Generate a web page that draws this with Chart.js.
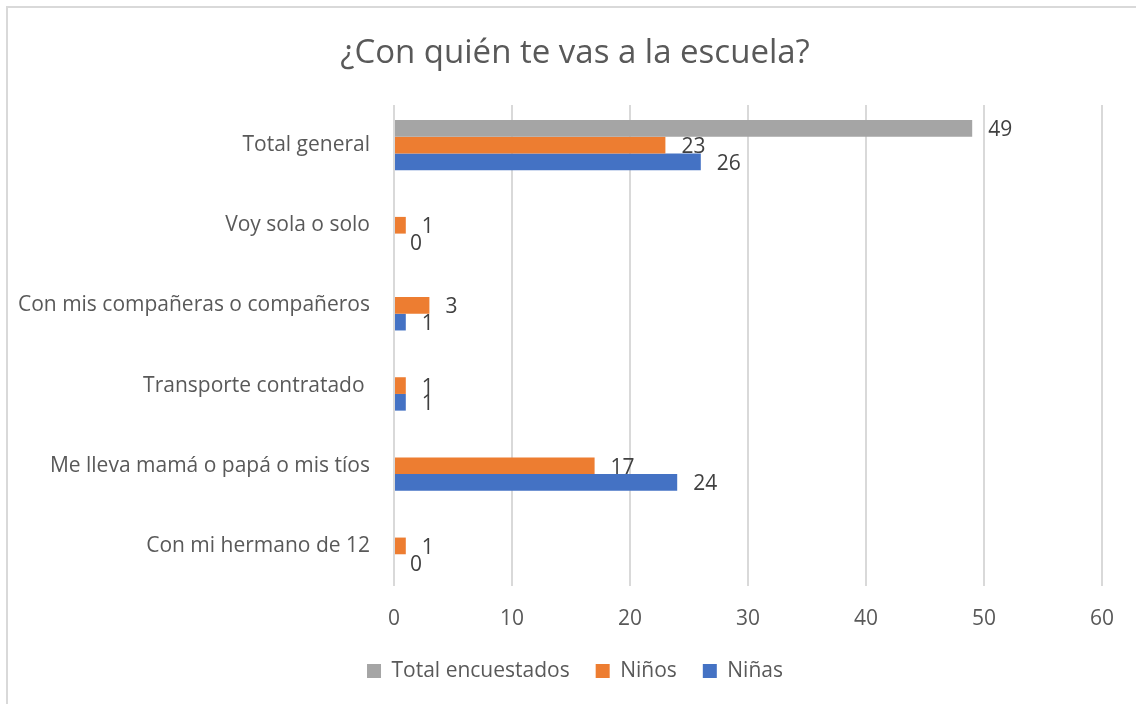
<!DOCTYPE html>
<html>
<head>
<meta charset="utf-8">
<script src="https://cdn.jsdelivr.net/npm/chart.js@4"></script>
<style>
  html, body { margin: 0; padding: 0; background: #fff; overflow: hidden; }
  #wrap { position: relative; width: 1136px; height: 704px; }
  #frame { position: absolute; left: 6px; top: 6px; width: 1160px; height: 740px; border: 2px solid #d9d9d9; box-sizing: border-box; }
  #box { position: absolute; left: 0; top: 0; width: 1136px; height: 704px; }
</style>
</head>
<body>
<div id="wrap">
  <div id="frame"></div>
  <div id="box"><canvas id="chart"></canvas></div>
</div>
<script>
const categories = [
  'Total general',
  'Voy sola o solo',
  'Con mis compañeras o compañeros',
  'Transporte contratado ',
  'Me lleva mamá o papá o mis tíos',
  'Con mi hermano de 12'
]
const totalEncuestados = [49, null, null, null, null, null]
const ninos = [23, 1, 3, 1, 17, 1]
const ninas = [26, 0, 1, 1, 24, 0]
const xTicks = [0, 10, 20, 30, 40, 50, 60]

const FONT = '"Open Sans", Calibri, sans-serif'
const TEXT = '#595959'

// etiquetas de valor al final de cada barra
const barLabels = {
  id: 'barLabels',
  afterDatasetsDraw(chart) {
    const { ctx } = chart
    ctx.save()
    ctx.font = `21px ${FONT}`
    ctx.fillStyle = '#404040'
    ctx.textAlign = 'left'
    ctx.textBaseline = 'middle'
    chart.data.datasets.forEach((ds, i) => {
      const meta = chart.getDatasetMeta(i)
      meta.data.forEach((el, j) => {
        const v = ds.data[j]
        if (v === null || v === undefined) return
        ctx.fillText(String(v), el.x + 16, el.y + 2)
      })
    })
    ctx.restore()
  }
}

// el marco original sigue más allá del borde derecho: título y leyenda centrados en x≈575
const shiftBlocks = {
  id: 'shiftBlocks',
  afterLayout(chart) {
    if (chart.titleBlock) chart.titleBlock.left = 48
    if (chart.legend) chart.legend.left = 48
  }
}

new Chart(document.getElementById('chart'), {
  type: 'bar',
  data: {
    labels: categories,
    datasets: [
      { label: 'Total encuestados', data: totalEncuestados, backgroundColor: '#A5A5A5' },
      { label: 'Niños', data: ninos, backgroundColor: '#ED7D31' },
      { label: 'Niñas', data: ninas, backgroundColor: '#4472C4' }
    ]
  },
  options: {
    indexAxis: 'y',
    responsive: true,
    maintainAspectRatio: false,
    animation: false,
    datasets: { bar: { categoryPercentage: 0.625, barPercentage: 1 } },
    layout: { padding: { left: 0, right: 34, top: 0, bottom: 12.5 } },
    plugins: {
      title: {
        display: true,
        text: '¿Con quién te vas a la escuela?',
        color: TEXT,
        font: { family: FONT, size: 33, weight: 'normal' },
        padding: { top: 34, bottom: 31.4 }
      },
      legend: {
        position: 'bottom',
        labels: {
          color: TEXT,
          font: { family: FONT, size: 21 },
          boxWidth: 14,
          boxHeight: 14,
          padding: 26
        }
      },
      tooltip: { enabled: false }
    },
    scales: {
      x: {
        min: 0,
        max: 60,
        afterBuildTicks(scale) { scale.ticks = xTicks.map(v => ({ value: v })) },
        afterFit(scale) { scale.height = 48.5 },
        grid: { color: '#d9d9d9', lineWidth: 2, drawTicks: false },
        border: { display: false },
        ticks: { color: TEXT, font: { family: FONT, size: 21 }, padding: 20 }
      },
      y: {
        afterFit(scale) { scale.width = 394 },
        grid: { display: false, drawTicks: false },
        border: { display: false },
        ticks: { color: TEXT, font: { family: FONT, size: 21 }, padding: 24 }
      }
    }
  },
  plugins: [barLabels, shiftBlocks]
})
</script>
</body>
</html>
